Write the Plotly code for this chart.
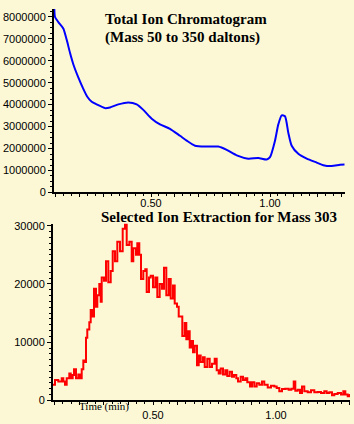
import plotly.graph_objects as go

# ---- Total Ion Chromatogram (top) ----
tic_time = [0.0937, 0.0966, 0.1105, 0.1315, 0.1458, 0.1596, 0.1735, 0.1945, 0.2155, 0.2323,
            0.2508, 0.2718, 0.3067, 0.3277, 0.3626, 0.4046, 0.4399, 0.4676, 0.5029, 0.5378,
            0.5798, 0.6218, 0.6500, 0.6848, 0.7340, 0.7827, 0.8180, 0.8601, 0.9088, 0.9508,
            0.9861, 1.0000, 1.0210, 1.0349, 1.0492, 1.0630, 1.0769, 1.0911, 1.1189, 1.1542,
            1.1962, 1.2239, 1.2592, 1.2941, 1.3130]
tic_value = [8360000, 7990000, 7760000, 7470000, 6950000, 6360000, 5840000, 5240000, 4720000, 4360000,
             4130000, 4010000, 3840000, 3870000, 4010000, 4100000, 4010000, 3760000, 3360000, 3100000,
             2900000, 2580000, 2360000, 2130000, 2090000, 2090000, 1940000, 1690000, 1540000, 1570000,
             1500000, 1610000, 2360000, 3100000, 3510000, 3470000, 2720000, 2130000, 1760000, 1540000,
             1360000, 1240000, 1200000, 1260000, 1270000]

# ---- Selected Ion Extraction, mass 303 (bottom) ----
sie_time = [0.0935, 0.1016, 0.1150, 0.1289, 0.1354, 0.1423, 0.1492, 0.1598, 0.1655, 0.1736,
            0.1789, 0.1870, 0.1963, 0.2033, 0.2102, 0.2167, 0.2236, 0.2276, 0.2329, 0.2411,
            0.2468, 0.2549, 0.2602, 0.2683, 0.2736, 0.2817, 0.2874, 0.2915, 0.3008, 0.3089,
            0.3183, 0.3281, 0.3362, 0.3455, 0.3549, 0.3659, 0.3768, 0.3862, 0.3931, 0.4037,
            0.4134, 0.4199, 0.4309, 0.4362, 0.4443, 0.4512, 0.4606, 0.4687, 0.4744, 0.4837,
            0.4907, 0.5000, 0.5094, 0.5175, 0.5272, 0.5366, 0.5447, 0.5541, 0.5638, 0.5720,
            0.5813, 0.5882, 0.5976, 0.6045, 0.6126, 0.6191, 0.6289, 0.6354, 0.6423, 0.6492,
            0.6557, 0.6626, 0.6695, 0.6789, 0.6858, 0.6939, 0.7033, 0.7102, 0.7207, 0.7305,
            0.7398, 0.7508, 0.7589, 0.7671, 0.7752, 0.7846, 0.7939, 0.8020, 0.8118, 0.8211,
            0.8293, 0.8386, 0.8455, 0.8565, 0.8659, 0.8752, 0.8833, 0.8943, 0.9024, 0.9118,
            0.9215, 0.9321, 0.9431, 0.9524, 0.9663, 0.9797, 0.9931, 1.0028, 1.0134, 1.0244,
            1.0378, 1.0516, 1.0622, 1.0720, 1.0785, 1.0882, 1.0976, 1.1057, 1.1150, 1.1289,
            1.1423, 1.1557, 1.1695, 1.1829, 1.1963, 1.2061, 1.2167, 1.2276, 1.2370, 1.2508,
            1.2642, 1.2736, 1.2817, 1.2915, 1.3000]
sie_value = [2700, 3520, 3230, 3800, 3230, 2680, 3800, 4640, 3800, 4360,
             5360, 3800, 4470, 3800, 5360, 6870, 6590, 10780, 12180, 13410,
             15540, 14420, 19160, 16090, 18050, 20000, 16930, 21120, 20560, 23910,
             20280, 22240, 25600, 23910, 27260, 25600, 29500, 30340, 26700, 27260,
             23910, 26150, 25030, 26990, 25030, 20840, 22240, 22520, 18610, 21120,
             21400, 19440, 21120, 17770, 20000, 19160, 22800, 18050, 20840, 17490,
             19720, 16650, 16090, 14420, 14420, 11060, 13300, 10500, 11900, 9100,
             10220, 8260, 9380, 6030, 7710, 6590, 7430, 5750, 7150, 5750,
             6310, 7150, 5190, 4640, 5470, 4470, 5190, 4190, 4910, 4070,
             4360, 3800, 3230, 4070, 3520, 3800, 3100, 2400, 3120, 2400,
             2960, 2680, 3230, 2680, 2230, 2510, 2400, 2120, 1560, 1960,
             2010, 1840, 2010, 3230, 1680, 1840, 1290, 2400, 1560, 1390,
             1730, 1390, 1460, 1290, 1560, 1290, 1390, 890, 1120, 1290,
             1010, 1560, 1010, 730, 1120]

x_major = [0.1, 0.2, 0.3, 0.4, 0.5, 0.6, 0.7, 0.8, 0.9, 1.0, 1.1, 1.2, 1.3]
x_text_top = ["", "", "", "", "0.50", "", "", "", "", "1.00", "", "", ""]
x_text_bot = ["", "", "", "", "0.50", "", "", "", "", "1.00", "", "", ""]
tic_yticks = [0, 1000000, 2000000, 3000000, 4000000, 5000000, 6000000, 7000000, 8000000]
sie_yticks = [0, 10000, 20000, 30000]

title_top_1 = "Total Ion Chromatogram"
title_top_2 = "(Mass 50 to 350 daltons)"
title_bot = "Selected Ion Extraction for Mass 303"
x_label = "Time (min)"

W, H = 354, 424
BG = "#FCF8D6"
serif = "Liberation Serif, Times New Roman, serif"
sans = "Liberation Sans, Arial, sans-serif"

fig = go.Figure()
fig.add_trace(go.Scatter(x=tic_time, y=tic_value, mode="lines", line=dict(color="#0000FF", width=2, shape="spline", smoothing=0.6),
                         xaxis="x", yaxis="y", hoverinfo="skip"))
fig.add_trace(go.Scatter(x=sie_time, y=sie_value, mode="lines", line=dict(color="#FF0000", width=2, shape="hv"),
                         xaxis="x2", yaxis="y2", hoverinfo="skip"))

axis_common = dict(showgrid=False, zeroline=False, showline=True, linecolor="black", linewidth=2,
                   ticks="outside", tickcolor="black", tickwidth=1,
                   tickfont=dict(family=sans, size=11, color="black"))

fig.update_layout(
    width=W, height=H, margin=dict(l=0, r=0, t=0, b=0),
    paper_bgcolor=BG, plot_bgcolor=BG, showlegend=False,
    xaxis=dict(domain=[54 / W, 345 / W], range=[0.0924, 1.3151], anchor="y",
               tickmode="array", tickvals=x_major, ticktext=x_text_top, ticklen=3, ticklabelstandoff=-4,
               minor=dict(tickmode="linear", tick0=0.1, dtick=1 / 30, ticklen=2, ticks="outside", tickcolor="black"),
               **axis_common),
    yaxis=dict(domain=[1 - 193 / H, 1 - 5 / H], range=[0, 8360000], anchor="x",
               tickmode="array", tickvals=tic_yticks, ticktext=[str(v) for v in tic_yticks], ticklen=4,
               minor=dict(tickmode="linear", tick0=0, dtick=250000, ticklen=2, ticks="outside", tickcolor="black"),
               **axis_common),
    xaxis2=dict(domain=[53 / W, 350 / W], range=[0.0935, 1.3008], anchor="y2",
                tickmode="array", tickvals=x_major, ticktext=x_text_bot, ticklen=3,
                minor=dict(tickmode="linear", tick0=0.1, dtick=1 / 30, ticklen=2, ticks="outside", tickcolor="black"),
                **axis_common),
    yaxis2=dict(domain=[1 - 406 / H, 1 - 225 / H], range=[0, 30350], anchor="x2",
                tickmode="array", tickvals=sie_yticks, ticktext=[str(v) for v in sie_yticks], ticklen=4,
                minor=dict(tickmode="linear", tick0=0, dtick=1000, ticklen=2, ticks="outside", tickcolor="black"),
                **axis_common),
)

fig.add_annotation(text="<b>" + title_top_1 + "</b>", xref="paper", yref="paper", x=103 / W, y=1 - 15 / H,
                   xanchor="left", yanchor="middle", showarrow=False, font=dict(family=serif, size=15, color="black"))
fig.add_annotation(text="<b>" + title_top_2 + "</b>", xref="paper", yref="paper", x=103 / W, y=1 - 34 / H,
                   xanchor="left", yanchor="middle", showarrow=False, font=dict(family=serif, size=15, color="black"))
fig.add_annotation(text="<b>" + title_bot + "</b>", xref="paper", yref="paper", x=100 / W, y=1 - 218 / H,
                   xanchor="left", yanchor="middle", showarrow=False, borderpad=0,
                   font=dict(family=serif, size=15, color="black"))
fig.add_annotation(text=x_label, xref="x2", yref="paper", x=0.3, y=1 - 412 / H,
                   xanchor="center", yanchor="middle", showarrow=False, font=dict(family=serif, size=11, color="black"))

fig.write_html("out.html")
